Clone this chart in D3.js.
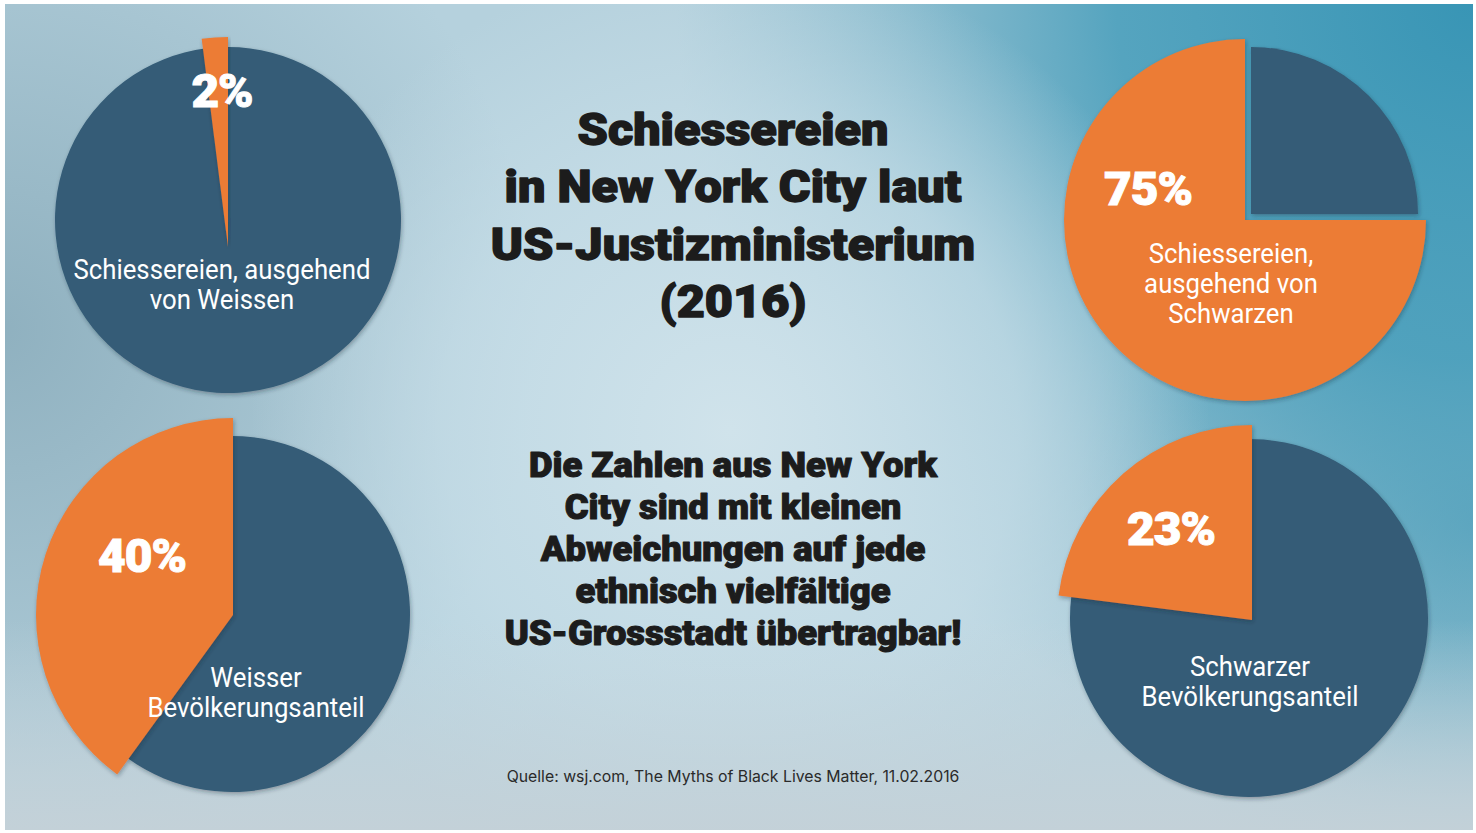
<!DOCTYPE html>
<html>
<head>
<meta charset="utf-8">
<script src="https://cdn.jsdelivr.net/npm/d3@7"></script>
<style>
  html, body { margin: 0; padding: 0; background: #ffffff; }
  svg { display: block; }
</style>
</head>
<body>
<svg id="chart" width="1476" height="833"></svg>
<script>
// ---- data ----
const pieNames = [
  "Schiessereien von Weissen",
  "Schiessereien von Schwarzen",
  "Weisser Bevölkerungsanteil",
  "Schwarzer Bevölkerungsanteil"
];
const orangeShare = [2, 75, 40, 23];          // percent
const pieCaptions = [
  ["Schiessereien, ausgehend", "von Weissen"],
  ["Schiessereien,", "ausgehend von", "Schwarzen"],
  ["Weisser", "Bevölkerungsanteil"],
  ["Schwarzer", "Bevölkerungsanteil"]
];
const titleLines = ["Schiessereien", "in New York City laut", "US-Justizministerium", "(2016)"];
const noteLines = [
  "Die Zahlen aus New York",
  "City sind mit kleinen",
  "Abweichungen auf jede",
  "ethnisch vielfältige",
  "US-Grossstadt übertragbar!"
];
const sourceText = "Quelle: wsj.com, The Myths of Black Lives Matter, 11.02.2016";

// ---- layout ----
const ORANGE = "#ec7c35", DARK = "#345c77", INK = "#1c1c1c";
const font = "Roboto, 'Liberation Sans', sans-serif";

// per pie: dark-part centre/radius, orange-part centre/radius, caption + percent anchor
const pieLayout = [
  { dc: [228, 220], dr: 173, oc: [228, 247], or: 210, cap: [222, 279], pct: [222, 107] },
  { dc: [1251, 214], dr: 167, oc: [1245, 220], or: 181, cap: [1231, 263], pct: [1148, 205] },
  { dc: [232, 614], dr: 178, oc: [233, 615], or: 197, cap: [256, 687], pct: [142, 572] },
  { dc: [1249, 618], dr: 179, oc: [1252, 620], or: 195, cap: [1250, 676], pct: [1171, 545] }
];

const svg = d3.select("#chart");
const defs = svg.append("defs");

// multi-line text block, horizontally stretched/condensed by sx
function textBlock(parent, x, y, lines, lineH, sx, attrs) {
  const g = parent.append("g").attr("transform", `translate(${x},${y}) scale(${sx},1)`);
  const t = g.append("text").attr("text-anchor", "middle");
  Object.entries(attrs).forEach(([k, v]) => t.attr(k, v));
  lines.forEach((line, k) => t.append("tspan").attr("x", 0).attr("y", k * lineH).text(line));
  return t;
}

// ---- background ----
function radial(id, cx, cy, r, stops) {
  const g = defs.append("radialGradient").attr("id", id)
    .attr("gradientUnits", "userSpaceOnUse")
    .attr("cx", cx).attr("cy", cy).attr("r", r);
  stops.forEach(([o, c, a]) => g.append("stop").attr("offset", o).attr("stop-color", c).attr("stop-opacity", a));
}
radial("gTR", 1476, 0, 800, [[0, "#3895b5", 1], [0.45, "#489ebb", 0.88], [1, "#6aaac0", 0]]);
radial("gL", 0, 330, 540, [[0, "#8badbc", 0.9], [1, "#8badbc", 0]]);
radial("gR", 1476, 520, 400, [[0, "#5ea6bf", 0.9], [1, "#5ea6bf", 0]]);
radial("gC", 730, 430, 480, [[0, "#d0e3eb", 1], [0.6, "#c7dee8", 0.7], [1, "#c7dee8", 0]]);

const gB = defs.append("linearGradient").attr("id", "gB")
  .attr("x1", 0).attr("y1", 0).attr("x2", 0).attr("y2", 1);
gB.append("stop").attr("offset", 0).attr("stop-color", "#c8d6dd").attr("stop-opacity", 0);
gB.append("stop").attr("offset", 1).attr("stop-color", "#c4d1d8").attr("stop-opacity", 0.95);

const shadow = defs.append("filter").attr("id", "shadow")
  .attr("x", "-10%").attr("y", "-10%").attr("width", "120%").attr("height", "120%");
shadow.append("feDropShadow").attr("dx", 1).attr("dy", 2).attr("stdDeviation", 2)
  .attr("flood-color", "#1c2b33").attr("flood-opacity", 0.35);

const frame = { x: 5, y: 4, w: 1468, h: 826 };
const bg = svg.append("g");
bg.append("rect").attr("x", frame.x).attr("y", frame.y).attr("width", frame.w).attr("height", frame.h)
  .attr("fill", "#b5d1dd");
["gL", "gR", "gTR", "gC"].forEach(id => {
  bg.append("rect").attr("x", frame.x).attr("y", frame.y).attr("width", frame.w).attr("height", frame.h)
    .attr("fill", `url(#${id})`);
});
bg.append("rect").attr("x", frame.x).attr("y", 620).attr("width", frame.w).attr("height", frame.y + frame.h - 620)
  .attr("fill", "url(#gB)");

// ---- pies ----
const pctScale = d3.scaleLinear().domain([0, 100]).range([0, 2 * Math.PI]);

pieLayout.forEach((L, i) => {
  const share = orangeShare[i];
  const start = -pctScale(share);
  const pie = d3.pie().sort(null).value(d => d.v)
    .startAngle(start).endAngle(start + 2 * Math.PI);
  const arcs = pie([
    { key: "orange", v: share },
    { key: "dark", v: 100 - share }
  ]);
  const g = svg.append("g").attr("class", "pie").attr("aria-label", pieNames[i]);

  const darkArc = d3.arc().innerRadius(0).outerRadius(L.dr);
  const orangeArc = d3.arc().innerRadius(0).outerRadius(L.or);

  g.append("path")
    .attr("transform", `translate(${L.dc[0]},${L.dc[1]})`)
    .attr("d", darkArc(arcs[1]))
    .attr("fill", DARK)
    .attr("filter", "url(#shadow)");
  g.append("path")
    .attr("transform", `translate(${L.oc[0]},${L.oc[1]})`)
    .attr("d", orangeArc(arcs[0]))
    .attr("fill", ORANGE)
    .attr("filter", "url(#shadow)");

  // percent label
  textBlock(g, L.pct[0], L.pct[1], [`${share}%`], 0, 1.04, {
    "font-family": font, "font-weight": 900, "font-size": 46,
    fill: "#ffffff", stroke: "#ffffff", "stroke-width": 1, "letter-spacing": -1
  });

  // caption
  textBlock(g, L.cap[0], L.cap[1], pieCaptions[i], 30, 0.92, {
    "font-family": font, "font-weight": 400, "font-size": 28, fill: "#ffffff"
  });
});

// ---- headline and note ----
textBlock(svg, 733, 145, titleLines, 57.5, 1.08, {
  "font-family": font, "font-weight": 900, "font-size": 45,
  fill: INK, stroke: INK, "stroke-width": 1.4, "stroke-linejoin": "round"
});

textBlock(svg, 733, 477, noteLines, 42, 1.04, {
  "font-family": font, "font-weight": 900, "font-size": 35,
  fill: INK, stroke: INK, "stroke-width": 1.1, "stroke-linejoin": "round"
});

svg.append("text")
  .attr("x", 733).attr("y", 782)
  .attr("text-anchor", "middle")
  .attr("font-family", "Inter, 'Open Sans', sans-serif")
  .attr("font-size", 15.8).attr("fill", "#2a2a2a")
  .text(sourceText);
</script>
</body>
</html>
